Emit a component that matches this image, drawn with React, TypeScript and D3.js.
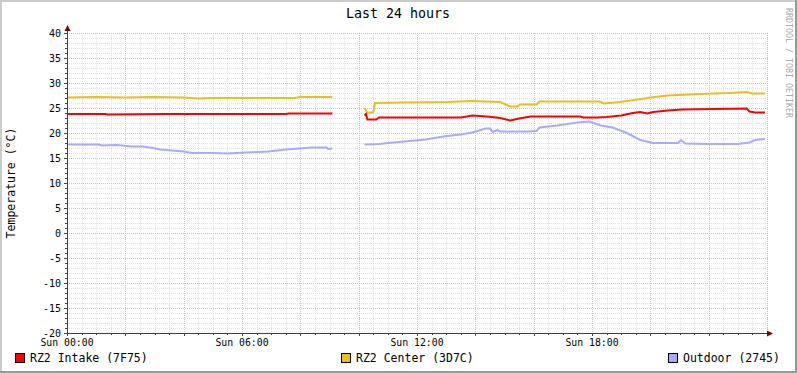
import React, { useRef, useEffect } from 'react';
import * as d3 from 'd3';

// hours since Sun 00:00, null marks the data gap
const intakeHours = [0, 1.3, 1.4, 3.4, 3.5, 7.5, 7.6, 9.1, 9.6, 10.2, 10.25, 10.3, 10.6, 10.7, 13.5, 13.9, 14.4, 14.85, 15.2, 15.5, 15.9, 17.6, 17.7, 18.2, 18.5, 19.0, 19.4, 19.65, 19.9, 20.1, 20.6, 21.1, 22.2, 23.3, 23.4, 23.6, 23.93];
const intakeTemps = [23.8, 23.8, 23.7, 23.8, 23.8, 23.8, 23.9, 23.9, null, 23.5, 23.8, 22.7, 22.7, 23.1, 23.1, 23.5, 23.3, 23.0, 22.5, 22.9, 23.3, 23.3, 23.1, 23.1, 23.2, 23.5, 24.0, 24.2, 23.9, 24.2, 24.5, 24.7, 24.8, 24.9, 24.3, 24.1, 24.1];

const centerHours = [0, 1.0, 2.0, 3.0, 4.0, 4.5, 5.0, 7.8, 8.0, 9.1, 9.6, 10.2, 10.3, 10.5, 10.56, 11.5, 13.0, 13.9, 14.85, 15.2, 15.45, 15.53, 16.1, 16.2, 18.27, 18.4, 18.96, 19.8, 20.0, 20.6, 21.7, 22.7, 23.3, 23.5, 23.93];
const centerTemps = [27.1, 27.2, 27.1, 27.2, 27.1, 26.9, 27.0, 27.0, 27.2, 27.2, null, 25.0, 24.1, 24.1, 26.0, 26.1, 26.2, 26.4, 26.2, 25.3, 25.3, 25.7, 25.7, 26.3, 26.3, 25.9, 26.2, 26.9, 27.1, 27.5, 27.8, 28.0, 28.2, 27.9, 27.9];

const outdoorHours = [0, 1.1, 1.2, 1.7, 1.9, 2.2, 2.6, 2.95, 3.2, 3.6, 4.0, 4.3, 5.0, 5.5, 5.8, 6.9, 7.5, 8.2, 8.4, 8.9, 8.95, 9.1, 9.6, 10.2, 10.7, 11.2, 12.3, 12.9, 13.5, 13.9, 14.35, 14.5, 14.6, 14.75, 14.85, 15.8, 16.1, 16.2, 16.8, 17.5, 17.9, 18.3, 18.7, 19.2, 19.65, 20.1, 20.95, 21.05, 21.2, 22.0, 23.0, 23.4, 23.6, 23.93];
const outdoorTemps = [17.7, 17.7, 17.5, 17.6, 17.5, 17.3, 17.3, 17.0, 16.7, 16.5, 16.3, 16.0, 16.0, 15.9, 16.0, 16.3, 16.7, 17.0, 17.1, 17.1, 16.8, 16.9, null, 17.7, 17.8, 18.1, 18.7, 19.3, 19.7, 20.1, 20.9, 20.9, 20.2, 20.6, 20.3, 20.3, 20.4, 21.1, 21.5, 22.1, 22.3, 21.5, 21.1, 20.0, 18.6, 18.0, 18.0, 18.6, 17.9, 17.8, 17.8, 18.1, 18.6, 18.8];

const seriesNames = ['RZ2 Intake (7F75)', 'RZ2 Center (3D7C)', 'Outdoor (2745)'];
const seriesColors = ['#ff0000', '#e8c020', '#aaaaff'];
const xTickLabels = ['Sun 00:00', 'Sun 06:00', 'Sun 12:00', 'Sun 18:00'];

const W = 797, H = 373;
const FONT = '"DejaVu Sans Mono", monospace';

function App() {
  const svgRef = useRef<SVGSVGElement>(null);

  useEffect(() => {
    const svg = d3.select(svgRef.current);
    svg.selectAll('*').remove();

    const x = d3.scaleLinear().domain([0, 24]).range([67, 767]);
    const y = d3.scaleLinear().domain([-20, 40]).range([333, 33]);

    // background and 3d border
    svg.append('rect').attr('width', W).attr('height', H).attr('fill', '#ffffff');
    svg.append('path').attr('d', `M0,${H} V0 H${W}`).attr('fill', 'none').attr('stroke', '#cbcbcb').attr('stroke-width', 4);
    svg.append('path').attr('d', `M0,${H} H${W} V0`).attr('fill', 'none').attr('stroke', '#999999').attr('stroke-width', 4);

    const grid = svg.append('g').attr('shape-rendering', 'crispEdges');
    const minorColor = '#e2e2e2';
    const majorColor = '#e6b8b8';

    // minor grid
    d3.range(0, 24.01, 0.5).filter(h => h % 2 !== 0).forEach(h => {
      const px = Math.round(x(h)) + 0.5;
      grid.append('line').attr('x1', px).attr('x2', px).attr('y1', 33).attr('y2', 333)
        .attr('stroke', minorColor).attr('stroke-dasharray', '1,1');
    });
    d3.range(-20, 41, 1).filter(v => v % 5 !== 0).forEach(v => {
      const py = Math.round(y(v)) + 0.5;
      grid.append('line').attr('x1', 67).attr('x2', 768).attr('y1', py).attr('y2', py)
        .attr('stroke', minorColor).attr('stroke-dasharray', '1,1');
    });
    // major grid
    d3.range(2, 24.01, 2).forEach(h => {
      const px = Math.round(x(h)) + 0.5;
      grid.append('line').attr('x1', px).attr('x2', px).attr('y1', 33).attr('y2', 333)
        .attr('stroke', majorColor).attr('stroke-dasharray', '1,1');
    });
    d3.range(-15, 41, 5).forEach(v => {
      const py = Math.round(y(v)) + 0.5;
      grid.append('line').attr('x1', 67).attr('x2', 768).attr('y1', py).attr('y2', py)
        .attr('stroke', majorColor).attr('stroke-dasharray', '1,1');
    });

    // ticks
    d3.range(0, 24.01, 0.5).forEach(h => {
      const px = Math.round(x(h)) + 0.5;
      grid.append('line').attr('x1', px).attr('x2', px).attr('y1', 333).attr('y2', h % 2 === 0 ? 336 : 335)
        .attr('stroke', '#404040');
    });
    d3.range(-20, 41, 1).forEach(v => {
      const py = Math.round(y(v)) + 0.5;
      grid.append('line').attr('x1', v % 5 === 0 ? 64 : 65).attr('x2', 67).attr('y1', py).attr('y2', py)
        .attr('stroke', '#404040');
    });

    // lines
    const series: [number[], (number | null)[]][] = [
      [intakeHours, intakeTemps],
      [centerHours, centerTemps],
      [outdoorHours, outdoorTemps],
    ];
    const line = d3.line<[number, number | null]>()
      .defined(d => d[1] !== null)
      .x(d => x(d[0]))
      .y(d => y(d[1] as number))
      .curve(d3.curveLinear);
    [2, 1, 0].forEach(i => {
      const [hs, vs] = series[i];
      svg.append('path')
        .datum(hs.map((h, j) => [h, vs[j]] as [number, number | null]))
        .attr('d', line)
        .attr('fill', 'none')
        .attr('stroke', seriesColors[i])
        .attr('stroke-width', 2);
    });

    // axes
    const axes = svg.append('g').attr('shape-rendering', 'crispEdges');
    axes.append('line').attr('x1', 64).attr('x2', 769).attr('y1', 333.5).attr('y2', 333.5).attr('stroke', '#404040');
    axes.append('line').attr('x1', 67.5).attr('x2', 67.5).attr('y1', 336).attr('y2', 30).attr('stroke', '#404040');
    svg.append('path').attr('d', 'M767,330.5 L773,333.5 L767,336.5 Z').attr('fill', '#7f0000');
    svg.append('path').attr('d', 'M64.5,31 L67.5,25 L70.5,31 Z').attr('fill', '#7f0000');

    // y tick labels
    d3.range(-20, 41, 5).forEach(v => {
      svg.append('text').attr('x', 61).attr('y', y(v) + 3.5).attr('text-anchor', 'end')
        .attr('font-family', FONT).attr('font-size', 10).attr('fill', '#000').text(v);
    });
    // x tick labels
    xTickLabels.forEach((t, i) => {
      svg.append('text').attr('x', x(i * 6)).attr('y', 346).attr('text-anchor', 'middle')
        .attr('font-family', FONT).attr('font-size', 9.8).attr('fill', '#000').text(t);
    });

    // title
    svg.append('text').attr('x', 398).attr('y', 18).attr('text-anchor', 'middle')
      .attr('font-family', FONT).attr('font-size', 13.3).attr('fill', '#000').text('Last 24 hours');

    // y-axis label
    svg.append('text').attr('transform', 'translate(15,183) rotate(-90)').attr('text-anchor', 'middle')
      .attr('font-family', FONT).attr('font-size', 11.5).attr('fill', '#000').text('Temperature (°C)');

    // watermark
    svg.append('text').attr('transform', 'translate(786,8) rotate(90)').attr('text-anchor', 'start')
      .attr('font-family', FONT).attr('font-size', 8.3).attr('fill', '#aaaaaa').text('RRDTOOL / TOBI OETIKER');

    // legend
    const legendX = [15, 341, 668];
    seriesNames.forEach((name, i) => {
      svg.append('rect').attr('x', legendX[i] + 0.5).attr('y', 353.5).attr('width', 9).attr('height', 9)
        .attr('fill', seriesColors[i]).attr('stroke', '#000').attr('shape-rendering', 'crispEdges');
      svg.append('text').attr('x', legendX[i] + 15).attr('y', 362)
        .attr('font-family', FONT).attr('font-size', 11.5).attr('fill', '#000').text(name);
    });
  }, []);

  return (
    <div>
      <svg ref={svgRef} width={W} height={H} style={{ position: 'absolute', left: 0, top: 0 }}></svg>
    </div>
  );
}

export default App;
